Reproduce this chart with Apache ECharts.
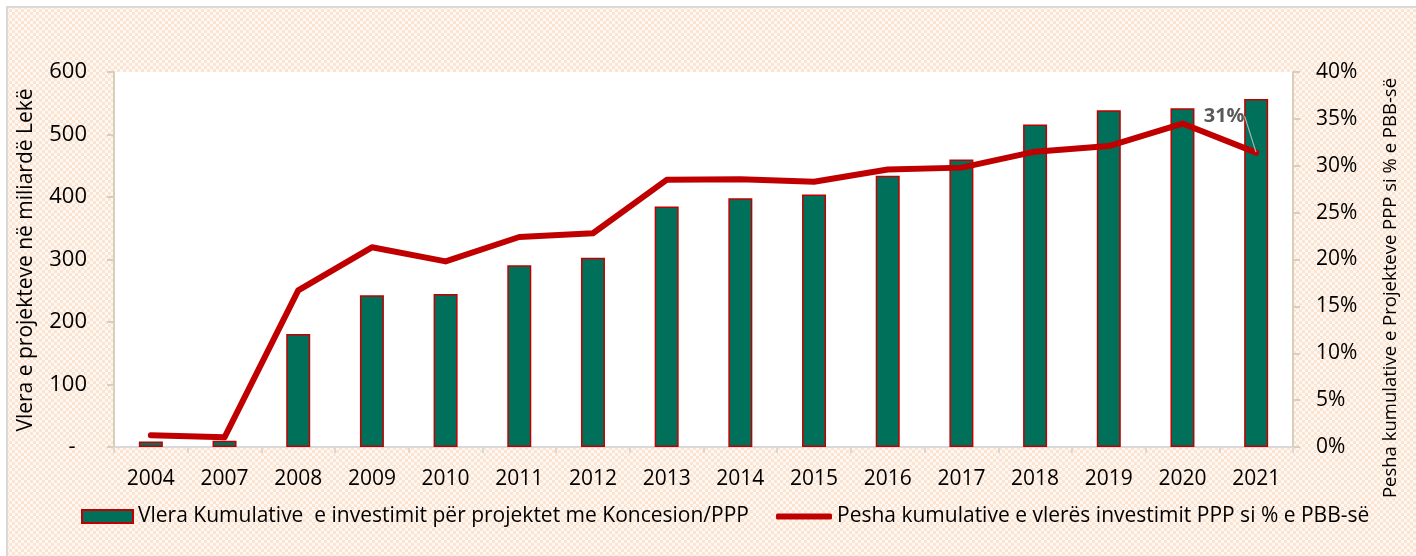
<!DOCTYPE html>
<html>
<head>
<meta charset="utf-8">
<script src="https://cdn.jsdelivr.net/npm/echarts@6/dist/echarts.min.js"></script>
<style>
  html, body { margin: 0; padding: 0; background: #fff; }
  #chart { width: 1416px; height: 556px; }
</style>
</head>
<body>
<div id="chart"></div>
<script>
// Kumulative PPP / Koncesione
const years = ["2004", "2007", "2008", "2009", "2010", "2011", "2012", "2013",
  "2014", "2015", "2016", "2017", "2018", "2019", "2020", "2021"]
const cumulativeValue = [9, 10, 181, 243, 245, 291, 303, 385, 398, 404, 434, 460, 516, 539, 542, 557]
const gdpShare = [1.25, 1.03, 16.7, 21.3, 19.8, 22.4, 22.8, 28.5, 28.55, 28.3, 29.6, 29.8, 31.5, 32.1, 34.5, 31.4]
const barName = "Vlera Kumulative  e investimit për projektet me Koncesion/PPP"
const lineName = "Pesha kumulative e vlerës investimit PPP si % e PBB-së"
const leftTitle = "Vlera e projekteve në miliardë Lekë"
const rightTitle = "Pesha kumulative e Projekteve PPP si % e PBB-së"

const FONT = "Open Sans"
const GREEN = "#00705a"
const RED = "#c00000"
const AXIS_TAN = "#d8cfbb"

// peach checker background
function makePattern() {
  const c = document.createElement("canvas")
  c.width = 6; c.height = 6
  const ctx = c.getContext("2d")
  ctx.fillStyle = "#fff7f1"
  ctx.fillRect(0, 0, 6, 6)
  ctx.fillStyle = "#fce4d2"
  ctx.fillRect(0, 0, 3, 3)
  ctx.fillRect(3, 3, 3, 3)
  return c
}

const chart = echarts.init(document.getElementById("chart"), null, { renderer: "canvas" })

const legendText = { color: "#000", fontSize: 21, fontFamily: FONT }

chart.setOption({
  backgroundColor: "#fff",
  animation: false,
  textStyle: { fontFamily: FONT },
  graphic: [
    {
      type: "rect", z: -10, silent: true,
      shape: { x: 7, y: 7, width: 1420, height: 560 },
      style: { fill: { image: makePattern(), repeat: "repeat" }, stroke: "#d9d9d9", lineWidth: 2 },
    },
    {
      type: "text", x: 26, y: 260, rotation: Math.PI / 2,
      style: { text: leftTitle, font: `21px ${FONT}`, fill: "#000", align: "center", verticalAlign: "middle" },
    },
    {
      type: "text", x: 1391, y: 288, rotation: Math.PI / 2,
      style: { text: rightTitle, font: `18.5px ${FONT}`, fill: "#000", align: "center", verticalAlign: "middle" },
    },
  ],
  grid: {
    left: 114, right: 123, top: 72, bottom: 109,
    show: true, backgroundColor: "#fff", borderWidth: 0,
  },
  legend: [
    {
      top: 501, left: 76,
      itemWidth: 51, itemHeight: 13,
      textStyle: legendText,
      data: [{ name: barName, icon: "rect" }],
    },
    {
      top: 501, left: 771,
      itemWidth: 56, itemHeight: 6,
      textStyle: legendText,
      data: [{ name: lineName, icon: "roundRect" }],
    },
  ],
  xAxis: {
    type: "category",
    data: years,
    axisLine: { lineStyle: { color: "#d9d9d9", width: 2 } },
    axisTick: { show: true, length: 6, lineStyle: { color: "#d9d9d9", width: 2 } },
    axisLabel: { color: "#000", fontSize: 21, margin: 22 },
  },
  yAxis: [
    {
      type: "value",
      min: 0, max: 600, interval: 100,
      axisLine: { show: true, lineStyle: { color: AXIS_TAN, width: 2 } },
      axisTick: { show: true, length: 7, lineStyle: { color: AXIS_TAN, width: 2 } },
      axisLabel: {
        color: "#000", fontSize: 22, margin: 27,
        formatter: (v) => (v === 0 ? "-  " : String(v)),
      },
      splitLine: { show: false },
    },
    {
      type: "value",
      position: "right",
      min: 0, max: 40, interval: 5,
      axisLine: { show: true, lineStyle: { color: AXIS_TAN, width: 2 } },
      axisTick: { show: true, length: 7, lineStyle: { color: AXIS_TAN, width: 2 } },
      axisLabel: { color: "#000", fontSize: 21, margin: 23, formatter: "{value}%" },
      splitLine: { show: false },
    },
  ],
  series: [
    {
      name: barName,
      type: "bar",
      data: cumulativeValue,
      barWidth: 24,
      itemStyle: { color: GREEN, borderColor: RED, borderWidth: 1.5 },
    },
    {
      name: lineName,
      type: "line",
      yAxisIndex: 1,
      symbol: "circle",
      symbolSize: 1,
      data: gdpShare.map((v, i) =>
        i === gdpShare.length - 1
          ? {
              value: v,
              label: {
                show: true, position: "top", distance: 0,
                formatter: () => Math.round(v) + "%",
                color: "#595959", fontSize: 20, fontWeight: "bold", fontFamily: FONT,
              },
              labelLine: { show: true, lineStyle: { color: "#b0b0b0", width: 1.2 } },
            }
          : v
      ),
      labelLayout: { dx: -32, dy: -26 },
      lineStyle: { color: RED, width: 6, cap: "round", join: "round" },
      itemStyle: { color: RED },
    },
  ],
})
</script>
</body>
</html>
